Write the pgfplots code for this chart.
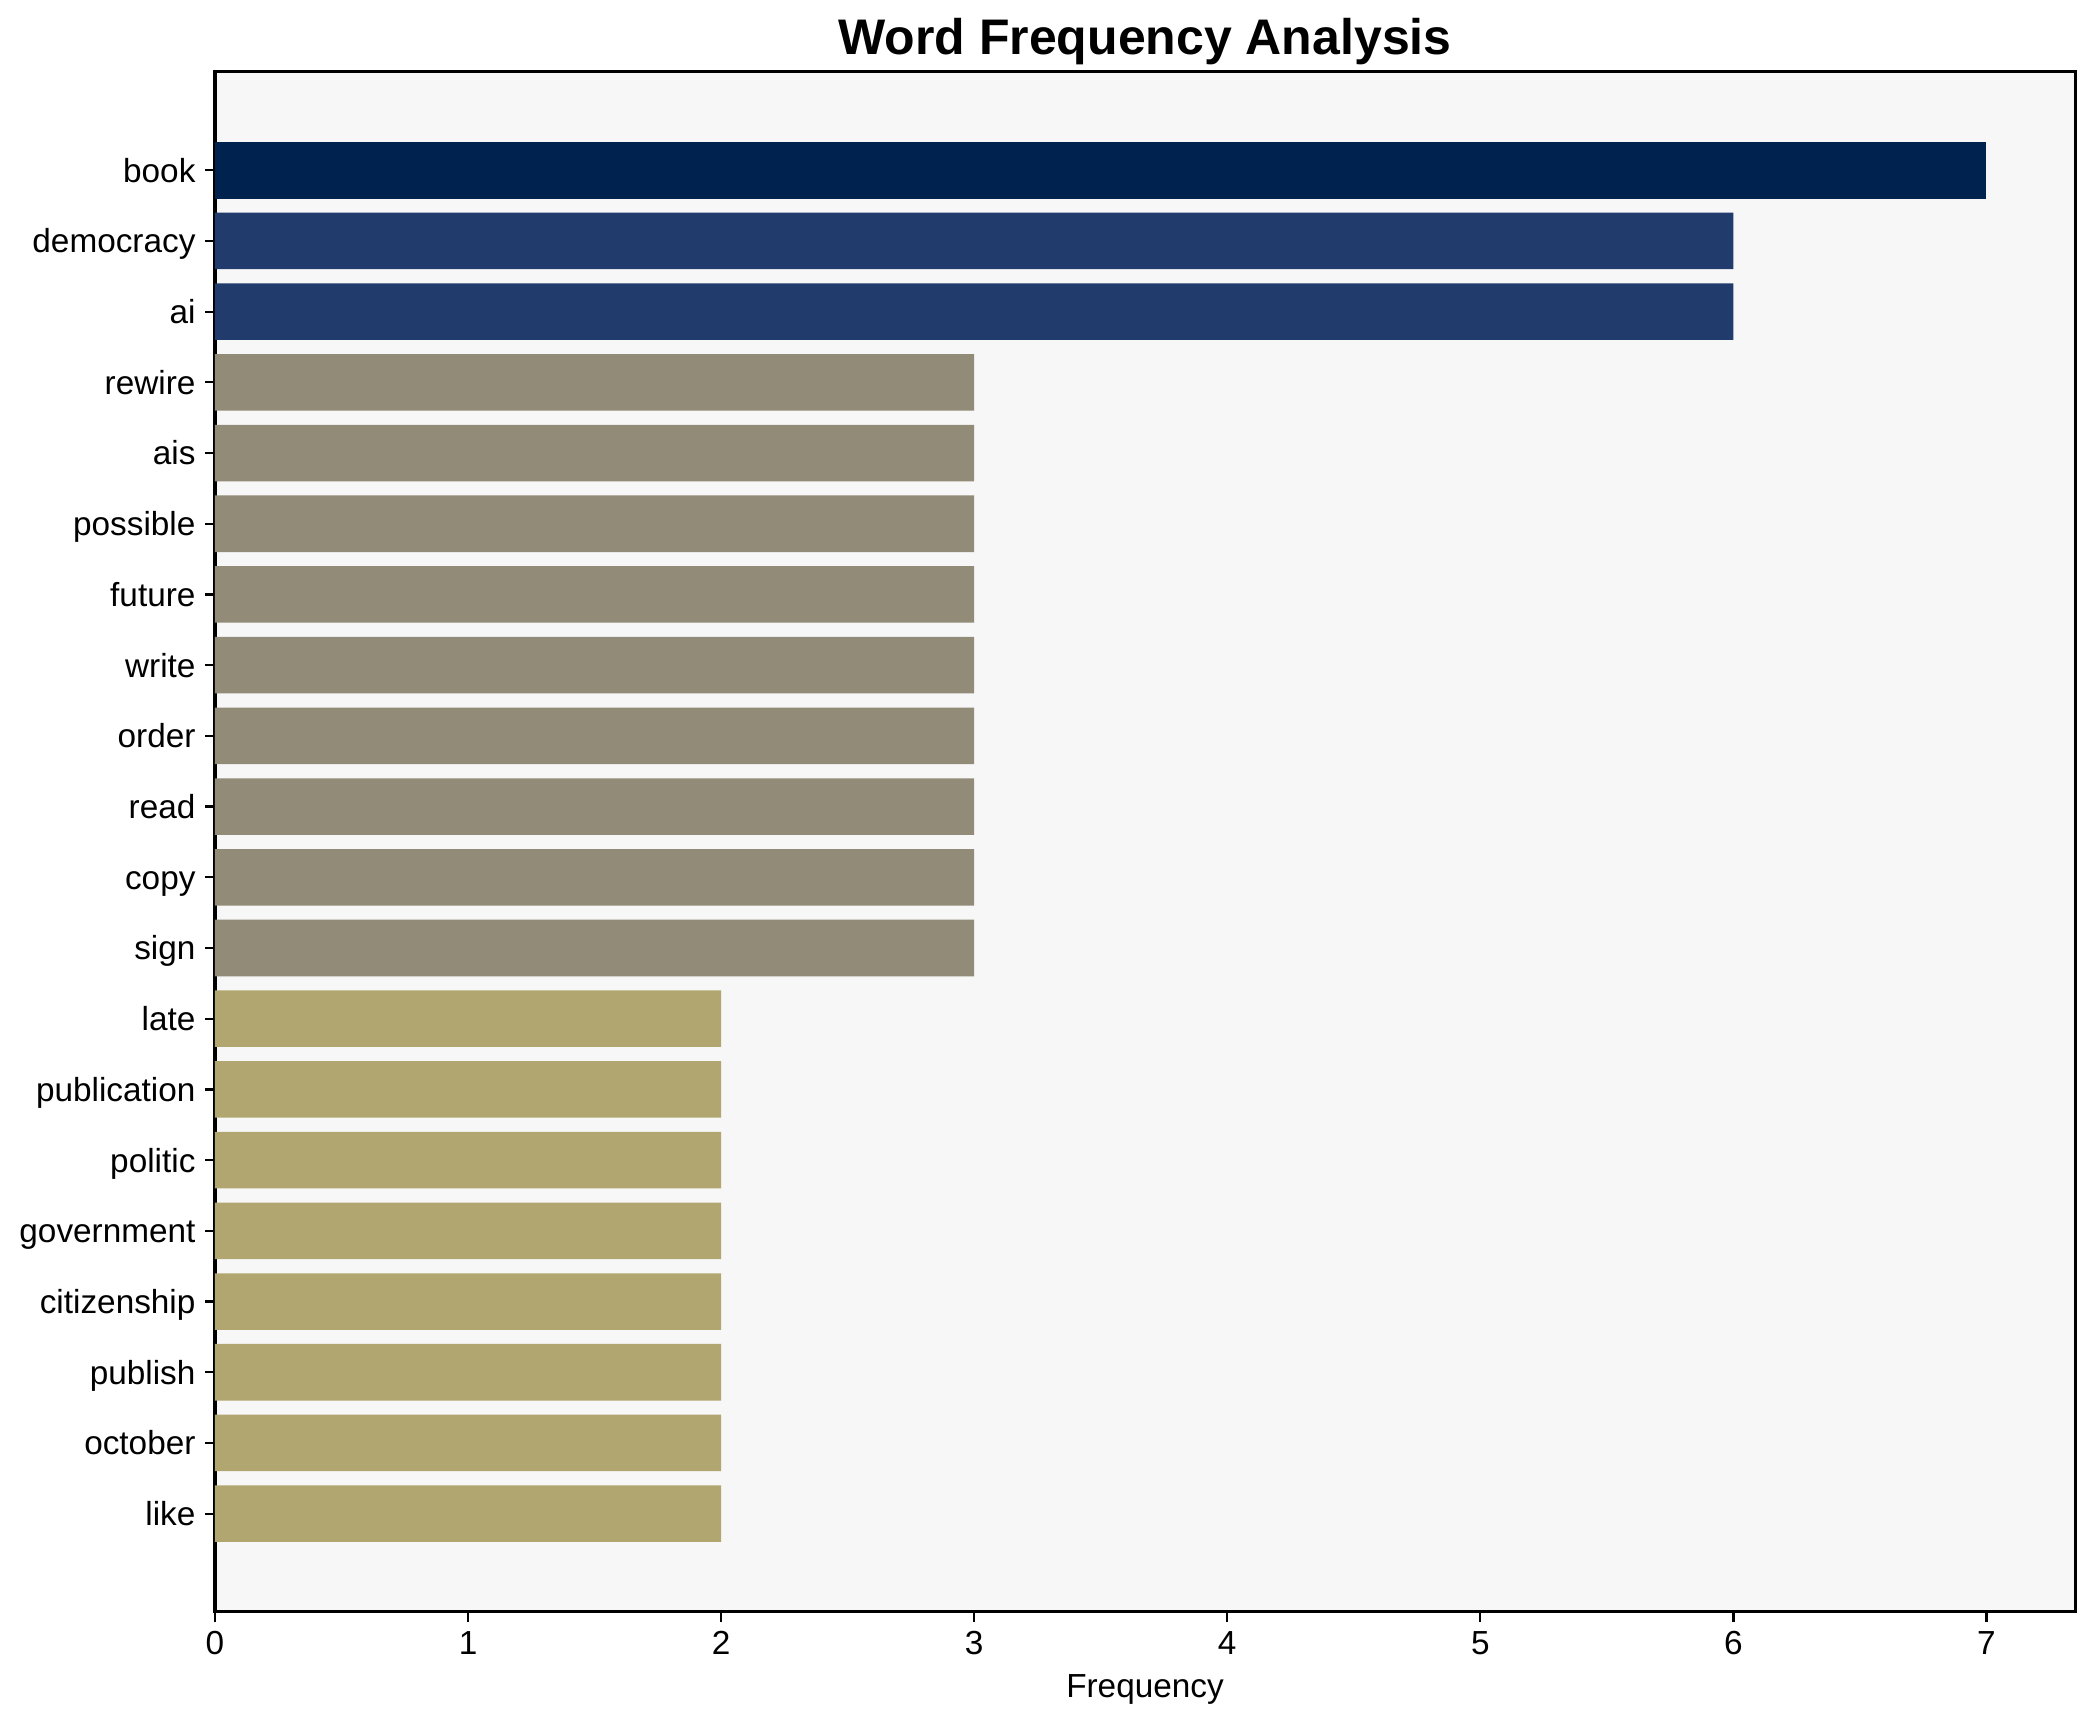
\documentclass[border=0pt]{standalone}
\usepackage{fontspec}
\setmainfont{Liberation Sans}
\usepackage{pgfplots}
\pgfplotsset{compat=1.18}

\definecolor{cvA}{HTML}{00224F}
\definecolor{cvB}{HTML}{223B6D}
\definecolor{cvC}{HTML}{918B78}
\definecolor{cvD}{HTML}{B1A66F}
\definecolor{bgax}{HTML}{F7F7F7}

\begin{document}
\begin{tikzpicture}
\useasboundingbox (-77.4pt,-39.6pt) rectangle (676.8pt,580.3pt);
\begin{axis}[
    scale only axis,
    width=669.6pt, height=554.4pt,
    xbar, bar shift=0pt, bar width=0.8,
    xmin=0, xmax=7.35,
    ymin=-1.39, ymax=20.39,
    y dir=reverse,
    axis background/.style={fill=bgax},
    axis line style={line width=1.1pt},
    tick align=outside,
    tick style={black, line width=0.8pt},
    major tick length=3.5pt,
    xtick={0,1,...,7},
    ytick={0,1,...,19},
    yticklabels={book,democracy,ai,rewire,ais,possible,future,write,order,read,copy,sign,late,publication,politic,government,citizenship,publish,october,like},
    xtick pos=bottom, ytick pos=left,
    /pgf/number format/assume math mode=true,
    ticklabel style={font=\fontsize{12}{14}\selectfont},
    yticklabel style={text height=8.6pt, text depth=0pt},
    xlabel={Frequency},
    xlabel style={font=\fontsize{12}{14}\selectfont},
    title={Word Frequency Analysis},
    title style={font=\bfseries\fontsize{18}{21}\selectfont, yshift=-7pt},
    ]
    \addplot[draw=none, fill=cvA] coordinates {(7,0)};
    \addplot[draw=none, fill=cvB] coordinates {(6,1) (6,2)};
    \addplot[draw=none, fill=cvC] coordinates {
        (3,3) (3,4) (3,5) (3,6) (3,7) (3,8) (3,9) (3,10) (3,11)};
    \addplot[draw=none, fill=cvD] coordinates {
        (2,12) (2,13) (2,14) (2,15) (2,16) (2,17) (2,18) (2,19)};
\end{axis}
\end{tikzpicture}
\end{document}
